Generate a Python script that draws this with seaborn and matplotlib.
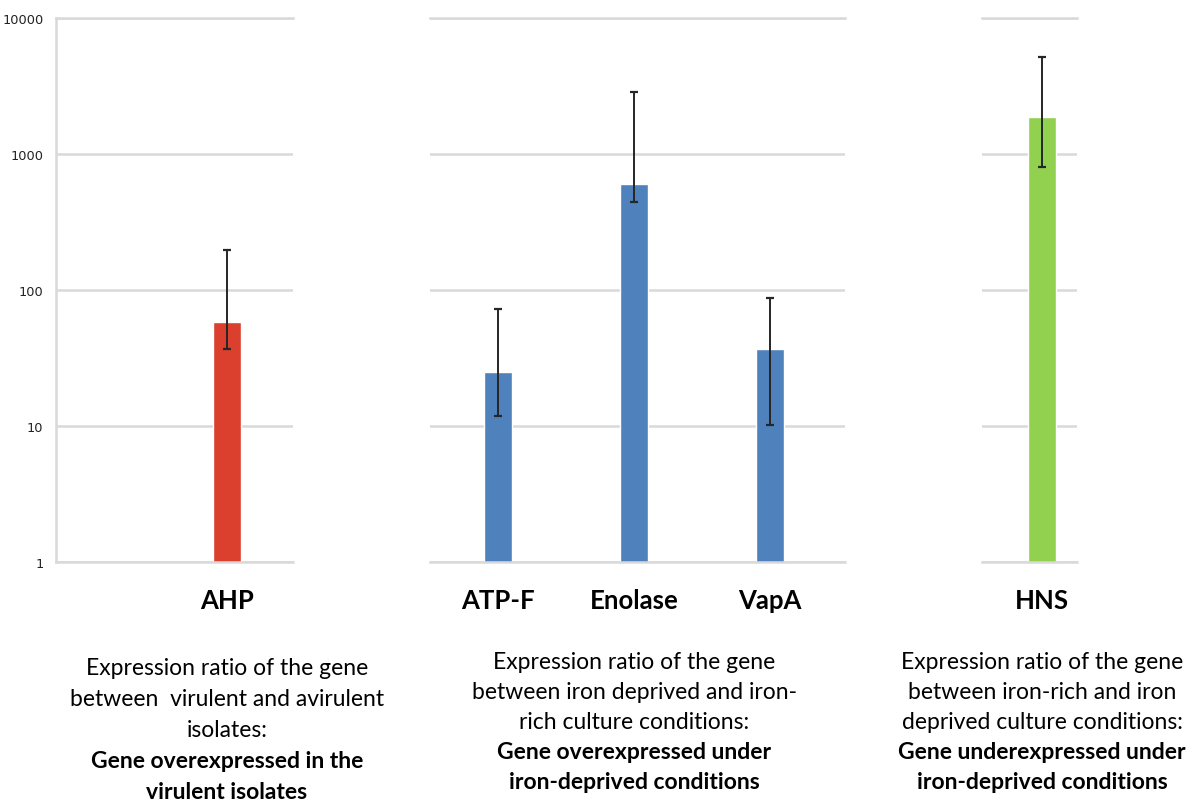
import matplotlib
matplotlib.use('Agg')
import matplotlib.pyplot as plt
import pandas as pd
import seaborn as sns
import numpy as np
from matplotlib.transforms import blended_transform_factory

# values
genes = ['AHP', 'ATP-F', 'Enolase', 'VapA', 'HNS']
panel_of_gene = [0, 1, 1, 1, 2]
ratios = [58, 25, 600, 37, 1870]
err_low = [37, 11.8, 443, 10.2, 800]
err_high = [197, 72, 2860, 88, 5150]
bar_colors = ['#DA402D', '#4F81BD', '#4F81BD', '#4F81BD', '#92D050']

y_ticks = [1, 10, 100, 1000, 10000]
y_tick_labels = ['1', '10', '100', '1000', '10000']

normal_lines = [
    ['Expression ratio of the gene', 'between  virulent and avirulent', 'isolates:'],
    ['Expression ratio of the gene', 'between iron deprived and iron-', 'rich culture conditions:'],
    ['Expression ratio of the gene', 'between iron-rich and iron', 'deprived culture conditions:'],
]
bold_lines = [
    ['Gene overexpressed in the', 'virulent isolates'],
    ['Gene overexpressed under', 'iron-deprived conditions'],
    ['Gene underexpressed under', 'iron-deprived conditions'],
]

df = pd.DataFrame({'gene': genes, 'panel': panel_of_gene, 'ratio': ratios,
                   'low': err_low, 'high': err_high, 'color': bar_colors})

W, H = 1200, 804
GRID = '#D9D9D9'

# layout of each panel in pixels: (left, right, xlim, index of the centre gene, first baseline, line step)
panels = [
    (56, 293, (-1.257, 0.485), 0, 675, 31),
    (430, 845, (-0.5, 2.55), 1, 669, 30),
    (982, 1077, (-0.44, 0.257), 0, 669, 30),
]

sns.set_style('white')
fig = plt.figure(figsize=(12, 8.04), dpi=100)

for i, (x0, x1, xlim, centre, base, step) in enumerate(panels):
    ax = fig.add_axes([x0 / W, 1 - 563 / H, (x1 - x0) / W, (563 - 19) / H])
    sub = df[df.panel == i].reset_index(drop=True)
    sns.barplot(data=sub, x='gene', y='ratio', hue='gene', palette=dict(zip(sub.gene, sub.color)),
                width=0.206, legend=False, saturation=1, ax=ax, zorder=2)
    pos = np.arange(len(sub))
    ax.errorbar(pos, sub.ratio, yerr=[sub.ratio - sub.low, sub.high - sub.ratio], fmt='none',
                ecolor='#262626', elinewidth=1.4, capsize=3, capthick=1.6, zorder=3)
    ax.set_yscale('log')
    ax.set_ylim(1, 10000)
    ax.set_xlim(*xlim)
    ax.set_yticks(y_ticks)
    ax.yaxis.set_minor_locator(matplotlib.ticker.NullLocator())
    ax.yaxis.grid(True, color=GRID, linewidth=1.8, zorder=0)
    ax.set_axisbelow(True)
    for s in ['top', 'bottom']:
        ax.spines[s].set_color(GRID)
        ax.spines[s].set_linewidth(1.8)
    ax.spines['right'].set_visible(False)
    if i == 0:
        ax.spines['left'].set_color(GRID)
        ax.spines['left'].set_linewidth(1.8)
        ax.set_yticklabels(y_tick_labels, fontsize=9.3, color='#222222', family='DejaVu Sans')
        ax.tick_params(axis='y', length=3, width=1.8, color=GRID, pad=6)
    else:
        ax.spines['left'].set_visible(False)
        ax.set_yticklabels([])
        ax.tick_params(axis='y', length=0)
    ax.tick_params(axis='x', length=0, pad=19)
    ax.set_xticks(pos)
    ax.set_xticklabels(sub.gene, fontsize=18.5, fontweight='bold', family='Lato', color='black')
    ax.set_xlabel('')
    ax.set_ylabel('')

    trans = blended_transform_factory(ax.transData, fig.transFigure)
    lines = [(t, 'normal') for t in normal_lines[i]] + [(t, 'bold') for t in bold_lines[i]]
    for k, (txt, w) in enumerate(lines):
        fig.text(centre, 1 - (base + k * step) / H, txt, transform=trans, ha='center', va='baseline',
                 fontsize=16.5, fontweight=w, family='Lato', color='black')

fig.savefig('out.png', dpi=100)
